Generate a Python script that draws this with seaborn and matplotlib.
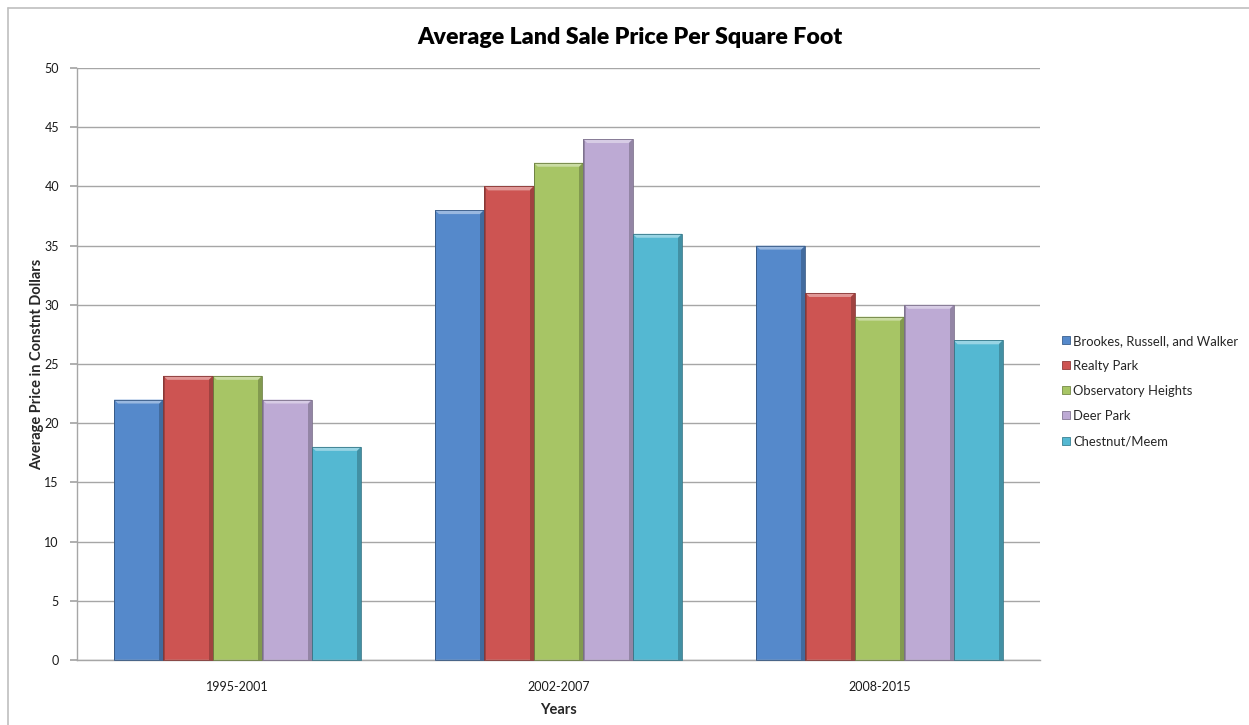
import numpy as np
import pandas as pd
import matplotlib
matplotlib.use("Agg")
import matplotlib.pyplot as plt
import seaborn as sns
from matplotlib.patches import Polygon
from matplotlib.transforms import IdentityTransform
from matplotlib.lines import Line2D
import matplotlib.colors as mcolors

# Data
periods = ["1995-2001", "2002-2007", "2008-2015"]
areas = ["Brookes, Russell, and Walker", "Realty Park", "Observatory Heights",
         "Deer Park", "Chestnut/Meem"]
brookes = [22, 38, 35]
realty = [24, 40, 31]
observatory = [24, 42, 29]
deer = [22, 44, 30]
chestnut = [18, 36, 27]
y_ticks = [0, 5, 10, 15, 20, 25, 30, 35, 40, 45, 50]

colors = ["#5589CB", "#CD5452", "#A7C565", "#BDAAD4", "#54B8D2"]

rows = []
for name, vals in zip(areas, [brookes, realty, observatory, deer, chestnut]):
    for p, v in zip(periods, vals):
        rows.append({"Years": p, "Area": name, "Price": v})
df = pd.DataFrame(rows)

sns.set_theme(style="white")
plt.rcParams["font.family"] = ["Lato", "DejaVu Sans"]

fig = plt.figure(figsize=(12.49, 7.25), dpi=100)
ax = fig.add_axes([77 / 1249, 1 - 660 / 725, (1040 - 77) / 1249, (660 - 68) / 725])

sns.barplot(data=df, x="Years", y="Price", hue="Area", order=periods,
            hue_order=areas, palette=colors, width=0.77, saturation=1,
            ax=ax, legend=False, linewidth=0)

ax.set_ylim(0, 50)
ax.set_xlim(-0.5, 2.5)
ax.set_yticks(y_ticks)
ax.yaxis.grid(True, color="#A6A6A6", linewidth=1)
ax.set_axisbelow(True)
for s in ["top", "right"]:
    ax.spines[s].set_visible(False)
for s in ["left", "bottom"]:
    ax.spines[s].set_color("#A6A6A6")
    ax.spines[s].set_linewidth(1)
ax.tick_params(axis="y", left=True, length=5, color="#A6A6A6", labelsize=9,
               pad=8, labelcolor="#1a1a1a")
ax.tick_params(axis="x", bottom=False, labelsize=9, pad=9, labelcolor="#1a1a1a")
ax.set_xlabel("Years", fontsize=10.5, fontweight="bold", labelpad=7)
ax.set_ylabel("Average Price in Constnt Dollars", fontsize=10.5, fontweight="bold",
              labelpad=0)
fig.suptitle("Average Land Sale Price Per Square Foot", x=630 / 1249,
             y=1 - 37 / 725, va="center", fontsize=16.7, fontweight="heavy",
             color="black")

# Bevel effect on each bar: lighter top band, darker sides
fig.canvas.draw()
ident = IdentityTransform()
bev = 4.0
for patch in list(ax.patches):
    bb = patch.get_window_extent()
    x0, y0, x1, y1 = bb.x0, bb.y0, bb.x1, bb.y1
    base = np.array(mcolors.to_rgb(patch.get_facecolor()))
    light = np.clip(base + (1 - base) * 0.4, 0, 1)
    dark = base * 0.78
    darker = base * 0.65
    z = patch.get_zorder()
    fig.add_artist(Polygon([[x0, y1], [x1, y1], [x1 - bev, y1 - bev], [x0 + bev, y1 - bev]],
                           closed=True, facecolor=light, edgecolor="none",
                           transform=ident, zorder=z + 0.1))
    fig.add_artist(Polygon([[x1, y1], [x1, y0], [x1 - bev, y0], [x1 - bev, y1 - bev]],
                           closed=True, facecolor=dark, edgecolor="none",
                           transform=ident, zorder=z + 0.1))
    fig.add_artist(Polygon([[x0, y1], [x0, y0], [x0 + 1.5, y0], [x0 + 1.5, y1 - 1.5]],
                           closed=True, facecolor=dark, edgecolor="none",
                           transform=ident, zorder=z + 0.1))
    fig.add_artist(Polygon([[x0, y0], [x0, y1], [x1, y1], [x1, y0]], closed=True,
                           facecolor="none", edgecolor=darker, linewidth=0.6,
                           transform=ident, zorder=z + 0.2))

# Legend
handles = [Line2D([0], [0], marker="s", linestyle="none", markersize=6,
                  markerfacecolor=c, markeredgecolor=np.array(mcolors.to_rgb(c)) * 0.7,
                  markeredgewidth=0.6)
           for c in colors]
fig.legend(handles, areas, loc="center left", bbox_to_anchor=(1057 / 1249, 1 - 391 / 725),
           frameon=False, fontsize=9.4, handlelength=0.6, handletextpad=0.25,
           labelspacing=1.0, borderaxespad=0)

# Chart border lines (top and left)
fig.add_artist(Line2D([8 / 1249, 1], [1 - 8 / 725, 1 - 8 / 725], color="#BFBFBF",
                      linewidth=1.2, transform=fig.transFigure))
fig.add_artist(Line2D([8 / 1249, 8 / 1249], [0, 1 - 8 / 725], color="#BFBFBF",
                      linewidth=1.2, transform=fig.transFigure))

fig.savefig("out.png", dpi=100, facecolor="white")
